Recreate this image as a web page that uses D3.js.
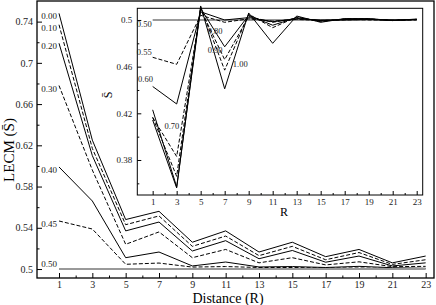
<!DOCTYPE html>
<html>
<head>
<meta charset="utf-8">
<script src="https://cdn.jsdelivr.net/npm/d3@7"></script>
<style>
  body { margin: 0; background: #fff; }
  svg { display: block; }
  svg text { font-family: "Liberation Serif", "DejaVu Serif", serif; }
</style>
</head>
<body>
<svg id="chart" width="436" height="305"></svg>
<script>
// distances (R)
const distances = [1, 3, 5, 7, 9, 11, 13, 15, 17, 19, 21, 23];

// main panel: LECM for thresholds 0.00 .. 0.50
const mainNames = ["0.00", "0.10", "0.20", "0.30", "0.40", "0.45", "0.50"];
const main000 = [0.748, 0.625, 0.548, 0.556, 0.526, 0.537, 0.5165, 0.526, 0.512, 0.519, 0.506, 0.5126];
const main010 = [0.737, 0.617, 0.543, 0.5515, 0.522, 0.532, 0.513, 0.522, 0.509, 0.516, 0.5045, 0.509];
const main020 = [0.719, 0.610, 0.537, 0.5456, 0.5175, 0.5275, 0.510, 0.518, 0.5066, 0.5126, 0.503, 0.506];
const main030 = [0.678, 0.596, 0.524, 0.536, 0.511, 0.519, 0.506, 0.511, 0.504, 0.507, 0.5023, 0.5026];
const main040 = [0.599, 0.566, 0.511, 0.5165, 0.503, 0.5068, 0.502, 0.5024, 0.5015, 0.5026, 0.5013, 0.5007];
const main045 = [0.5466, 0.5388, 0.5046, 0.5058, 0.5019, 0.5024, 0.5015, 0.5015, 0.501, 0.501, 0.5006, 0.5003];
const main050 = [0.5, 0.5, 0.5, 0.5, 0.5, 0.5, 0.5, 0.5, 0.5, 0.5, 0.5, 0.5];

// inset: thresholds 0.50 .. 1.00
const insetNames = ["0.50", "0.55", "0.60", "0.70", "0.80", "0.90", "1.00"];
const inset050 = [0.5, 0.5, 0.5, 0.5, 0.5, 0.5, 0.5, 0.5, 0.5, 0.5, 0.5, 0.5];
const inset055 = [0.468, 0.462, 0.504, 0.498, 0.501, 0.499, 0.5005, 0.4995, 0.5, 0.5005, 0.5, 0.5];
const inset060 = [0.443, 0.428, 0.507, 0.5, 0.502, 0.4985, 0.501, 0.5, 0.5, 0.5005, 0.4995, 0.5005];
const inset070 = [0.4165, 0.383, 0.509, 0.466, 0.503, 0.498, 0.5015, 0.4995, 0.5005, 0.5, 0.5, 0.5005];
const inset080 = [0.423, 0.357, 0.51, 0.477, 0.504, 0.4955, 0.502, 0.499, 0.5005, 0.5008, 0.4998, 0.5002];
const inset090 = [0.4165, 0.366, 0.511, 0.457, 0.505, 0.4934, 0.5025, 0.4985, 0.501, 0.501, 0.4995, 0.5005];
const inset100 = [0.4143, 0.356, 0.512, 0.441, 0.506, 0.48, 0.5034, 0.498, 0.5012, 0.5012, 0.4995, 0.5008];

// tick values
const xMajor = [1, 3, 5, 7, 9, 11, 13, 15, 17, 19, 21, 23];
const xMinor = [2, 4, 6, 8, 10, 12, 14, 16, 18, 20, 22];
const mainYMajor = [0.5, 0.54, 0.58, 0.62, 0.66, 0.7, 0.74];
const mainYMinor = [0.52, 0.56, 0.6, 0.64, 0.68, 0.72];
const insetYMajor = [0.38, 0.42, 0.46, 0.5];
const insetYMinor = [0.36, 0.4, 0.44, 0.48];

const mainSeries = [main000, main010, main020, main030, main040, main045, main050];
const insetSeries = [inset050, inset055, inset060, inset070, inset080, inset090, inset100];

const svg = d3.select("#chart");
const fmt = d => String(+d.toFixed(2));

// draw one panel: frame, ticks, lines
function panel(box, xDom, yDom, yMaj, yMin, fs) {
  const x = d3.scaleLinear().domain(xDom).range([box.left, box.right]);
  const y = d3.scaleLinear().domain(yDom).range([box.bottom, box.top]);
  const g = svg.append("g");

  g.append("rect")
    .attr("x", box.left).attr("y", box.top)
    .attr("width", box.right - box.left).attr("height", box.bottom - box.top)
    .attr("fill", "#fff").attr("stroke", "#000").attr("stroke-width", box.sw);

  const axes = [
    [d3.axisBottom(x).tickValues(xMajor).tickFormat(fmt).tickSize(-box.tick), `translate(0,${box.bottom})`, box.padX],
    [d3.axisBottom(x).tickValues(xMinor).tickFormat("").tickSize(-box.tick / 2), `translate(0,${box.bottom})`, box.padX],
    [d3.axisLeft(y).tickValues(yMaj).tickFormat(fmt).tickSize(-box.tick), `translate(${box.left},0)`, box.padY],
    [d3.axisLeft(y).tickValues(yMin).tickFormat("").tickSize(-box.tick / 2), `translate(${box.left},0)`, box.padY]
  ];
  axes.forEach(([ax, tr, pad]) => {
    const a = g.append("g").attr("transform", tr)
      .call(ax.tickSizeOuter(0).tickPadding(pad));
    a.select(".domain").remove();
    a.selectAll("line").attr("stroke", "#000");
    a.selectAll("text")
      .attr("font-family", null)
      .style("font-family", "'Liberation Serif', serif")
      .attr("font-size", fs).attr("fill", "#222");
  });
  return {x, y, g};
}

function drawLines(p, series, styles) {
  const line = d3.line().x((d, i) => p.x(distances[i])).y(d => p.y(d));
  series.forEach((s, i) => {
    p.g.append("path")
      .datum(s)
      .attr("d", line)
      .attr("fill", "none")
      .attr("stroke", styles[i].c)
      .attr("stroke-width", styles[i].w)
      .attr("stroke-dasharray", styles[i].dash);
  });
}

const solid = {c: "#000", w: 1, dash: null};
const dashed = {c: "#000", w: 1, dash: "4,2"};
const gray = {c: "#999", w: 2, dash: null};

// main panel
const mainP = panel({left: 37, right: 434, top: 1, bottom: 278, sw: 1.3, tick: 5, padX: 3, padY: 4},
  [-0.32, 23.5], [0.4913, 0.76], mainYMajor, mainYMinor, 10);
drawLines(mainP, mainSeries, [solid, dashed, solid, dashed, solid, dashed, gray]);

// series labels, left of the start points
mainNames.forEach((n, i) => {
  const v = mainSeries[i][0];
  mainP.g.append("text")
    .attr("x", mainP.x(1) - 2)
    .attr("y", mainP.y(v) + (i === 6 ? -4 : 4))
    .attr("text-anchor", "end")
    .attr("dominant-baseline", "middle")
    .attr("font-size", 9).attr("fill", "#222")
    .text(n);
});

// inset panel
const insetP = panel({left: 137.3, right: 422.7, top: 8.3, bottom: 195, sw: 1, tick: 4, padX: 4, padY: 5},
  [-0.28, 23.5], [0.35, 0.51], insetYMajor, insetYMinor, 9);
drawLines(insetP, insetSeries, [gray, dashed, solid, dashed, solid, dashed, solid]);

// inset labels [name, x, value]
[["0.50", 0.3, 0.4955], ["0.55", 0.3, 0.4715], ["0.60", 0.4, 0.4485],
 ["0.70", 2.6, 0.4086], ["0.80", 6.2, 0.4895], ["0.90", 6.2, 0.4735], ["1.00", 8.3, 0.4615]]
  .forEach(([n, xv, yv]) => {
    insetP.g.append("text")
      .attr("x", insetP.x(xv)).attr("y", insetP.y(yv))
      .attr("text-anchor", "middle")
      .attr("dominant-baseline", "middle")
      .attr("font-size", 8.5).attr("fill", "#222")
      .text(n);
  });

// axis titles
svg.append("text")
  .attr("transform", "translate(14,150) rotate(-90)")
  .attr("text-anchor", "middle")
  .attr("font-size", 15)
  .text("LECM (S\u0304)");
svg.append("text")
  .attr("x", 228).attr("y", 303)
  .attr("text-anchor", "middle")
  .attr("font-size", 14)
  .text("Distance (R)");
svg.append("text")
  .attr("transform", "translate(112,95) rotate(-90)")
  .attr("text-anchor", "middle")
  .attr("font-size", 12)
  .text("S\u0304");
svg.append("text")
  .attr("x", 284).attr("y", 216)
  .attr("text-anchor", "middle")
  .attr("font-size", 12)
  .text("R");
</script>
</body>
</html>
